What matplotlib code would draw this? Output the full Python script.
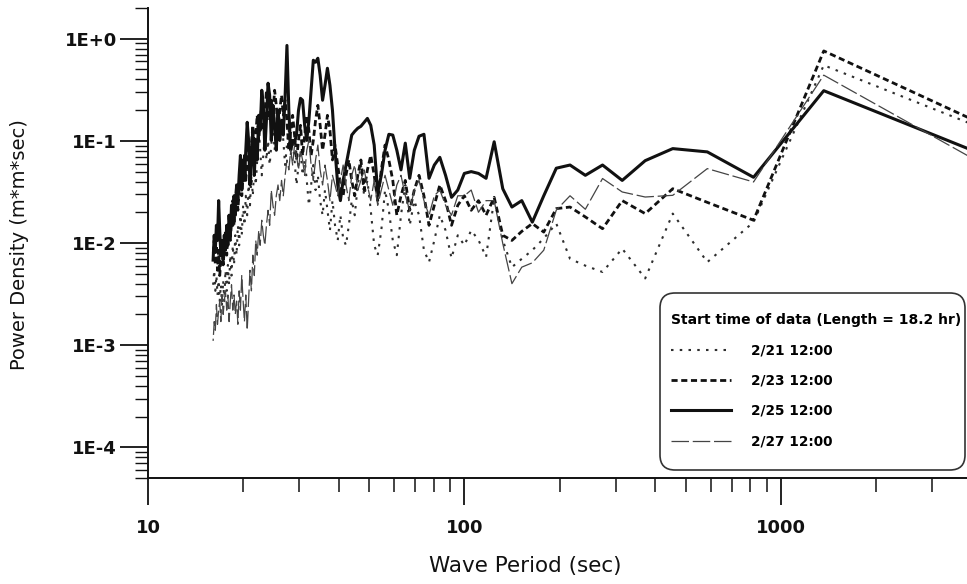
import matplotlib
matplotlib.use("Agg")
import matplotlib.pyplot as plt
from matplotlib.patches import FancyBboxPatch
from matplotlib.ticker import LogLocator, NullFormatter, FixedLocator, FixedFormatter
from matplotlib.font_manager import FontProperties

plt.rcParams['font.family'] = ['DejaVu Sans']

# ---------------- data ----------------
period_s = [
    4095, 1365, 819, 585, 455, 372.3, 315, 273, 240.9, 215.5,
    195, 178, 163.8, 151.7, 141.2, 132.1, 124.1, 117, 110.7, 105,
    99.88, 95.23, 91, 87.13, 83.57, 80.29, 77.26, 74.45, 71.84, 69.41,
    67.13, 65, 63, 61.12, 59.35, 57.68, 56.1, 54.6, 53.18, 51.84,
    50.56, 49.34, 48.18, 47.07, 46.01, 45, 44.03, 43.11, 42.22, 41.36,
    40.54, 39.76, 38.99, 38.27, 37.57, 36.89, 36.24, 35.61, 34.99, 34.41,
    33.84, 33.29, 32.76, 32.24, 31.74, 31.26, 30.79, 30.33, 29.89, 29.46,
    29.04, 28.64, 28.24, 27.86, 27.48, 27.12, 26.76, 26.42, 26.08, 25.75,
    25.43, 25.12, 24.82, 24.52, 24.23, 23.95, 23.67, 23.4, 23.14, 22.88,
    22.62, 22.38, 22.13, 21.9, 21.67, 21.44, 21.22, 21, 20.79, 20.58,
    20.37, 20.17, 19.98, 19.78, 19.59, 19.41, 19.23, 19.05, 18.87, 18.7,
    18.53, 18.36, 18.2, 18.04, 17.88, 17.73, 17.57, 17.42, 17.28, 17.13,
    16.99, 16.85, 16.72, 16.58, 16.45, 16.32, 16.19, 16.06,
]

psd_0221 = [
    0.142, 0.55, 0.016, 0.0065, 0.0194, 0.0045, 0.0088, 0.0052, 0.006, 0.007,
    0.0155, 0.0111, 0.0085, 0.007, 0.0058, 0.0107, 0.0272, 0.0073, 0.0107, 0.0133,
    0.0095, 0.0119, 0.0071, 0.0133, 0.0187, 0.0106, 0.0065, 0.0085, 0.0187, 0.026,
    0.0149, 0.037, 0.0187, 0.0076, 0.0106, 0.0209, 0.033, 0.0133, 0.0076, 0.0095,
    0.0209, 0.041, 0.029, 0.058, 0.037, 0.0187, 0.026, 0.0149, 0.0095, 0.0111,
    0.0187, 0.0106, 0.0149, 0.026, 0.0133, 0.0209, 0.033, 0.0187, 0.026, 0.046,
    0.033, 0.058, 0.037, 0.0234, 0.041, 0.065, 0.046, 0.081, 0.058, 0.037,
    0.065, 0.101, 0.072, 0.127, 0.091, 0.058, 0.101, 0.159, 0.114, 0.178,
    0.127, 0.081, 0.142, 0.091, 0.058, 0.101, 0.065, 0.114, 0.072, 0.046,
    0.081, 0.127, 0.065, 0.037, 0.058, 0.029, 0.046, 0.0234, 0.037, 0.0187,
    0.029, 0.0149, 0.0234, 0.0119, 0.0187, 0.0095, 0.0149, 0.0076, 0.0119, 0.0061,
    0.0095, 0.0048, 0.0076, 0.0039, 0.0061, 0.0034, 0.0054, 0.0027, 0.0043, 0.0025,
    0.0039, 0.0027, 0.0043, 0.0031, 0.0048, 0.0034, 0.0054, 0.0039,
]

psd_0223 = [
    0.158, 0.76, 0.0167, 0.025, 0.034, 0.0194, 0.026, 0.0138, 0.018, 0.0225,
    0.0217, 0.0128, 0.0155, 0.013, 0.0106, 0.0119, 0.028, 0.0187, 0.026, 0.0209,
    0.029, 0.0234, 0.0149, 0.026, 0.037, 0.0234, 0.0149, 0.029, 0.046, 0.033,
    0.0209, 0.041, 0.029, 0.0187, 0.041, 0.065, 0.091, 0.052, 0.026, 0.046,
    0.072, 0.052, 0.033, 0.065, 0.046, 0.029, 0.041, 0.065, 0.046, 0.029,
    0.037, 0.058, 0.091, 0.065, 0.127, 0.178, 0.114, 0.081, 0.142, 0.223,
    0.159, 0.101, 0.072, 0.127, 0.178, 0.114, 0.072, 0.142, 0.101, 0.065,
    0.114, 0.178, 0.127, 0.081, 0.159, 0.25, 0.178, 0.28, 0.199, 0.127,
    0.223, 0.313, 0.178, 0.25, 0.159, 0.223, 0.313, 0.178, 0.127, 0.223,
    0.159, 0.101, 0.178, 0.114, 0.081, 0.142, 0.091, 0.058, 0.101, 0.065,
    0.041, 0.072, 0.046, 0.029, 0.052, 0.033, 0.0209, 0.037, 0.0234, 0.0149,
    0.026, 0.0167, 0.0106, 0.0187, 0.0119, 0.0076, 0.0133, 0.0085, 0.0061, 0.0106,
    0.0068, 0.0048, 0.0085, 0.0054, 0.0095, 0.0061, 0.0106, 0.0076,
]

psd_0225 = [
    0.079, 0.31, 0.044, 0.078, 0.084, 0.064, 0.041, 0.058, 0.046, 0.058,
    0.054, 0.029, 0.016, 0.026, 0.0225, 0.034, 0.098, 0.043, 0.048, 0.050,
    0.048, 0.033, 0.028, 0.046, 0.069, 0.058, 0.043, 0.116, 0.111, 0.081,
    0.043, 0.095, 0.052, 0.081, 0.114, 0.116, 0.081, 0.046, 0.031, 0.091,
    0.142, 0.166, 0.152, 0.139, 0.133, 0.124, 0.114, 0.081, 0.058, 0.041,
    0.026, 0.037, 0.081, 0.199, 0.35, 0.514, 0.35, 0.25, 0.439, 0.644,
    0.589, 0.616, 0.313, 0.159, 0.101, 0.142, 0.25, 0.261, 0.199, 0.114,
    0.097, 0.101, 0.081, 0.199, 0.86, 0.28, 0.114, 0.159, 0.101, 0.199,
    0.081, 0.142, 0.223, 0.101, 0.28, 0.367, 0.159, 0.081, 0.223, 0.313,
    0.127, 0.178, 0.065, 0.101, 0.046, 0.127, 0.072, 0.037, 0.101, 0.152,
    0.081, 0.041, 0.065, 0.033, 0.072, 0.046, 0.026, 0.037, 0.0187, 0.029,
    0.0149, 0.0234, 0.0119, 0.0187, 0.0095, 0.0149, 0.0085, 0.0119, 0.0068, 0.0106,
    0.0076, 0.0133, 0.026, 0.0106, 0.0149, 0.0085, 0.0119, 0.0068,
]

psd_0227 = [
    0.0655, 0.44, 0.0396, 0.0535, 0.0293, 0.0282, 0.0316, 0.0428, 0.0214, 0.029,
    0.021, 0.0085, 0.0064, 0.0058, 0.004, 0.0099, 0.026, 0.026, 0.02, 0.033,
    0.029, 0.029, 0.0187, 0.0234, 0.033, 0.029, 0.0187, 0.026, 0.041, 0.033,
    0.0209, 0.029, 0.046, 0.037, 0.0234, 0.033, 0.046, 0.033, 0.0234, 0.041,
    0.026, 0.037, 0.052, 0.041, 0.033, 0.058, 0.046, 0.026, 0.037, 0.058,
    0.041, 0.029, 0.037, 0.046, 0.026, 0.041, 0.058, 0.037, 0.052, 0.091,
    0.065, 0.041, 0.058, 0.101, 0.081, 0.046, 0.065, 0.081, 0.052, 0.072,
    0.091, 0.058, 0.081, 0.052, 0.065, 0.046, 0.029, 0.041, 0.026, 0.037,
    0.029, 0.0187, 0.0234, 0.033, 0.0149, 0.0209, 0.0149, 0.0095, 0.0119, 0.0167,
    0.0095, 0.0133, 0.0076, 0.0106, 0.0048, 0.0076, 0.0034, 0.0054, 0.0027, 0.0014,
    0.0031, 0.0017, 0.0027, 0.0048, 0.0022, 0.0034, 0.0016, 0.0027, 0.002, 0.0031,
    0.0022, 0.0039, 0.0027, 0.0017, 0.0031, 0.0022, 0.0034, 0.0027, 0.002, 0.0031,
    0.0017, 0.0027, 0.0022, 0.0016, 0.0025, 0.0014, 0.0017, 0.0011,
]

series_labels = ["2/21 12:00", "2/23 12:00", "2/25 12:00", "2/27 12:00"]
legend_title = "Start time of data (Length = 18.2 hr)"
x_ticks = [10, 100, 1000]
x_tick_labels = ["10", "100", "1000"]
y_ticks = [1e0, 1e-1, 1e-2, 1e-3, 1e-4]
y_tick_labels = ["1E+0", "1E-1", "1E-2", "1E-3", "1E-4"]
x_label = "Wave Period (sec)"
y_label = "Power Density (m*m*sec)"

# ---------------- figure ----------------
W, H = 967, 584
fig = plt.figure(figsize=(W / 100, H / 100), dpi=100)
ax = fig.add_axes([148 / W, 106 / H, 819 / W, 470 / H])
ax.set_xscale('log')
ax.set_yscale('log')

l1, = ax.plot(period_s, psd_0221, color='#2e2e2e', lw=1.5,
              linestyle=(0, (1.2, 3.0)), label=series_labels[0])
l2, = ax.plot(period_s, psd_0223, color='#111111', lw=2.0,
              linestyle=(0, (2.2, 1.3)), label=series_labels[1])
l3, = ax.plot(period_s, psd_0225, color='#111111', lw=2.2,
              linestyle='-', label=series_labels[2])
l4, = ax.plot(period_s, psd_0227, color='#444444', lw=0.9,
              linestyle=(0, (14, 3)), label=series_labels[3])

ax.set_xlim(10, 3870)
ax.set_ylim(5e-5, 2)

for s in ('top', 'right'):
    ax.spines[s].set_visible(False)
for s in ('left', 'bottom'):
    ax.spines[s].set_linewidth(1.4)
    ax.spines[s].set_color('#111111')

tick_font = FontProperties(family='DejaVu Sans', weight='bold', size=13)

ax.xaxis.set_major_locator(FixedLocator(x_ticks))
ax.xaxis.set_major_formatter(FixedFormatter(x_tick_labels))
ax.xaxis.set_minor_locator(LogLocator(base=10, subs=range(2, 10), numticks=20))
ax.xaxis.set_minor_formatter(NullFormatter())
ax.yaxis.set_major_locator(FixedLocator(y_ticks))
ax.yaxis.set_major_formatter(FixedFormatter(y_tick_labels))
ax.yaxis.set_minor_locator(LogLocator(base=10, subs=range(2, 10), numticks=20))
ax.yaxis.set_minor_formatter(NullFormatter())

ax.tick_params(axis='x', which='major', direction='out', length=19.5, width=1.3,
               pad=10, colors='#111111')
ax.tick_params(axis='x', which='minor', direction='out', length=10, width=1.1,
               colors='#111111')
ax.tick_params(axis='y', which='major', direction='out', length=20.5, width=1.3,
               pad=2, colors='#111111')
ax.tick_params(axis='y', which='minor', direction='out', length=9.5, width=1.0,
               colors='#111111')
for lbl in ax.get_xticklabels() + ax.get_yticklabels():
    lbl.set_fontproperties(tick_font)

ax.set_xlabel(x_label, fontsize=15.5, va='center', ha='center', color='#111111')
ax.xaxis.set_label_coords((525 - 148) / 819, (478 - 566) / 470)
ax.set_ylabel(y_label, fontsize=14, va='center', ha='center', color='#111111')
ax.yaxis.set_label_coords((20 - 148) / 819, (478 - 245) / 470)

# legend box (rounded) drawn in inches, inside the axes so the legend sits on top
box = FancyBboxPatch((6.60, 1.14), 3.05, 1.77,
                     boxstyle='round,pad=0,rounding_size=0.15',
                     transform=fig.dpi_scale_trans, facecolor='white',
                     edgecolor='#333333', linewidth=1.2, zorder=5,
                     clip_on=False)
ax.add_patch(box)

leg = ax.legend(handles=[l1, l2, l3, l4], labels=series_labels,
                title=legend_title,
                loc='upper left', bbox_to_anchor=(671 / W, 1 - 313 / H),
                bbox_transform=fig.transFigure, frameon=False,
                prop=FontProperties(family='DejaVu Sans', weight='bold', size=9.8),
                title_fontproperties=FontProperties(family='DejaVu Sans',
                                                    weight='bold', size=10),
                alignment='left', handlelength=4.4, handletextpad=1.45,
                labelspacing=1.2, borderpad=0, borderaxespad=0)
leg.set_zorder(10)

fig.savefig('out.png', dpi=100)
